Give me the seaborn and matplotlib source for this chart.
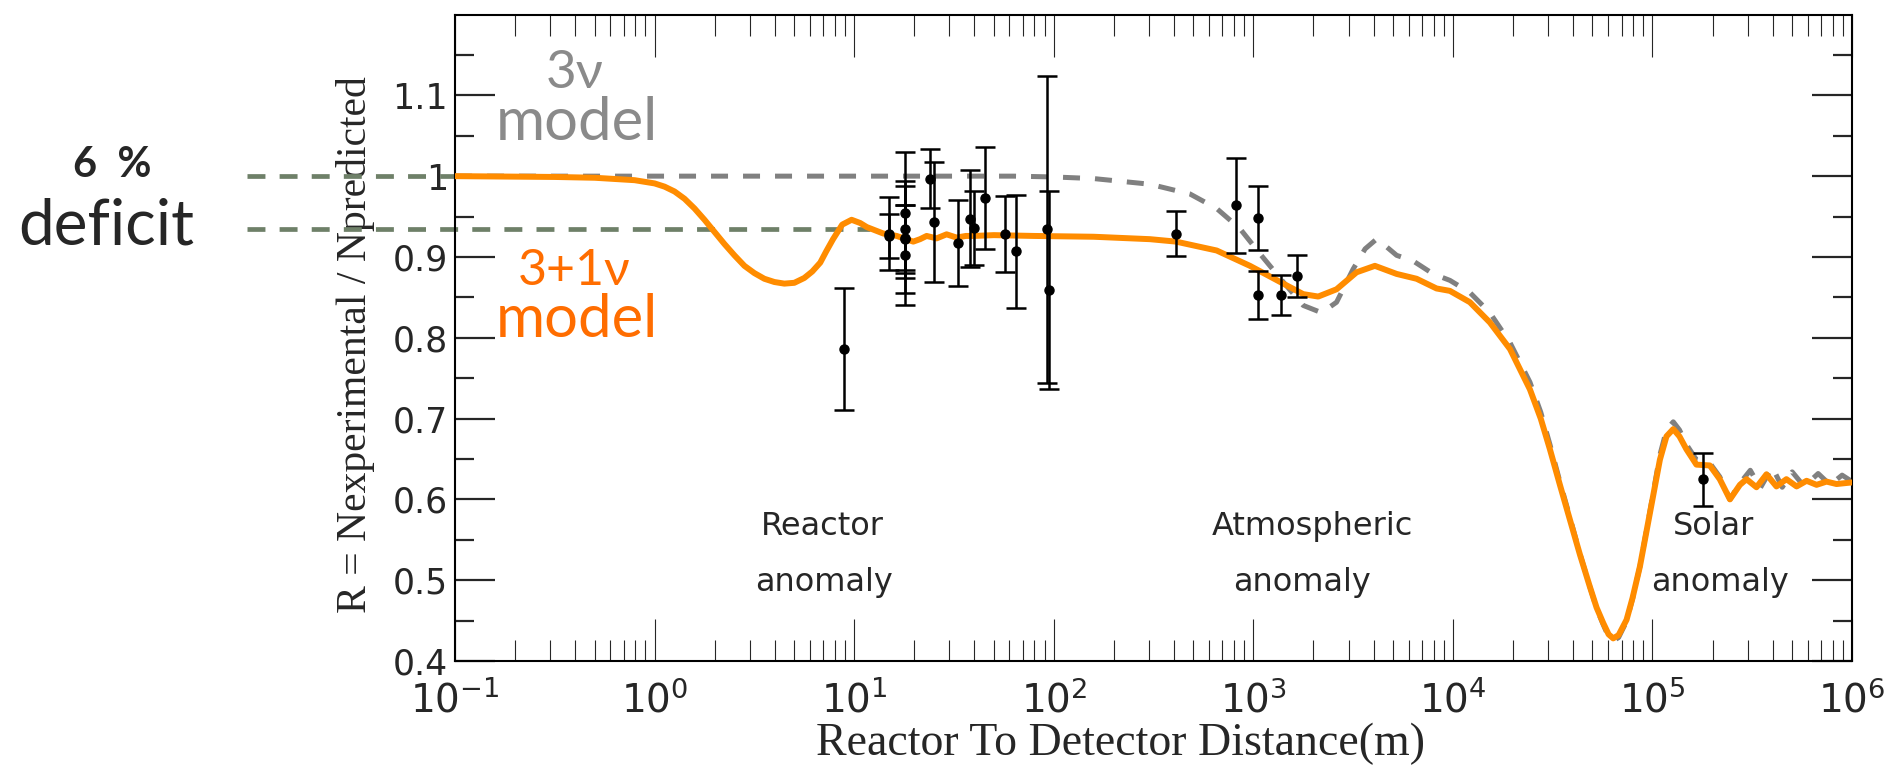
import numpy as np
import matplotlib
matplotlib.use("Agg")
import matplotlib.pyplot as plt
import seaborn as sns
from matplotlib.ticker import FixedLocator, LogLocator, NullFormatter, FuncFormatter

# 3+1 nu model (log10 of distance in m, R)
sterile_logx = [-1.0, -0.5, -0.3, -0.1, 0.0, 0.05, 0.1, 0.15, 0.2, 0.25, 0.3, 0.35, 0.4,
                0.45, 0.5, 0.55, 0.6, 0.65, 0.7, 0.75, 0.79, 0.83, 0.86, 0.894, 0.94,
                0.987, 1.03, 1.063, 1.146, 1.213, 1.26, 1.296, 1.33, 1.363, 1.413, 1.463,
                1.513, 1.56, 1.6, 1.7, 1.9, 2.2, 2.482, 2.612, 2.816, 2.983, 3.15, 3.25,
                3.325, 3.417, 3.517, 3.609, 3.718, 3.818, 3.918, 3.985, 4.085, 4.185,
                4.286, 4.386, 4.44, 4.486, 4.536, 4.586, 4.636, 4.686, 4.72, 4.753, 4.78,
                4.803, 4.83, 4.87, 4.9, 4.937, 4.987, 5.037, 5.07, 5.104, 5.135, 5.17,
                5.22, 5.287, 5.337, 5.388, 5.438, 5.471, 5.521, 5.571, 5.621, 5.671,
                5.722, 5.772, 5.822, 5.872, 5.922, 6.0]
sterile_r = [1.000, 0.999, 0.998, 0.995, 0.991, 0.987, 0.981, 0.972, 0.960, 0.946, 0.931,
             0.916, 0.902, 0.889, 0.880, 0.873, 0.869, 0.867, 0.868, 0.874, 0.882, 0.893,
             0.907, 0.922, 0.940, 0.946, 0.942, 0.937, 0.929, 0.926, 0.922, 0.919, 0.922,
             0.926, 0.923, 0.928, 0.924, 0.926, 0.926, 0.927, 0.926, 0.925, 0.922, 0.919,
             0.908, 0.889, 0.867, 0.854, 0.851, 0.860, 0.881, 0.889, 0.879, 0.873, 0.861,
             0.858, 0.844, 0.819, 0.786, 0.736, 0.700, 0.662, 0.618, 0.575, 0.532, 0.492,
             0.466, 0.447, 0.433, 0.428, 0.432, 0.451, 0.478, 0.517, 0.583, 0.649, 0.678,
             0.687, 0.678, 0.662, 0.643, 0.642, 0.625, 0.600, 0.618, 0.625, 0.615, 0.631,
             0.616, 0.625, 0.616, 0.623, 0.618, 0.622, 0.619, 0.621]

# 3 nu model
standard_logx = [-1.0, 0.0, 1.0, 1.8, 2.0, 2.2, 2.482, 2.682, 2.816, 2.933, 3.033, 3.15,
                 3.25, 3.342, 3.417, 3.5, 3.56, 3.617, 3.67, 3.718, 3.801, 3.901, 3.985,
                 4.085, 4.185, 4.286, 4.386, 4.44, 4.486, 4.536, 4.586, 4.636, 4.686,
                 4.72, 4.753, 4.78, 4.803, 4.83, 4.87, 4.9, 4.937, 4.987, 5.037, 5.07,
                 5.104, 5.135, 5.17, 5.22, 5.287, 5.337, 5.388, 5.438, 5.49, 5.54, 5.6,
                 5.65, 5.7, 5.76, 5.83, 5.89, 5.95, 6.0]
standard_r = [1.000, 1.000, 1.000, 1.000, 0.999, 0.997, 0.990, 0.978, 0.960, 0.935, 0.904,
              0.869, 0.840, 0.831, 0.844, 0.885, 0.910, 0.922, 0.912, 0.902, 0.895, 0.879,
              0.871, 0.856, 0.831, 0.794, 0.745, 0.708, 0.668, 0.622, 0.578, 0.533, 0.492,
              0.465, 0.445, 0.430, 0.425, 0.429, 0.449, 0.477, 0.517, 0.585, 0.655, 0.686,
              0.696, 0.686, 0.668, 0.649, 0.645, 0.628, 0.600, 0.620, 0.636, 0.614, 0.640,
              0.615, 0.634, 0.616, 0.632, 0.618, 0.630, 0.622]

# measurements (distance m, R, error)
meas_dist = [8.9, 15.0, 15.0, 18.0, 18.0, 18.0, 18.0, 18.0, 24.0, 25.0, 33.0, 38.0, 40.0,
             45.0, 57.0, 65.0, 92.0, 95.0,
             410, 820, 1050, 1050, 1380, 1650,
             1.8e5]
meas_r = [0.786, 0.929, 0.926, 0.955, 0.934, 0.922, 0.924, 0.902, 0.997, 0.943, 0.917,
          0.947, 0.936, 0.973, 0.928, 0.907, 0.934, 0.859,
          0.929, 0.964, 0.948, 0.853, 0.853, 0.876,
          0.625]
meas_err = [0.075, 0.045, 0.027, 0.075, 0.060, 0.066, 0.040, 0.062, 0.037, 0.074, 0.053,
            0.060, 0.046, 0.063, 0.047, 0.070, 0.190, 0.122,
            0.028, 0.059, 0.040, 0.030, 0.025, 0.026,
            0.033]

deficit_levels = [1.0, 0.934]

sns.set_style("ticks")
plt.rcParams["font.family"] = ["DejaVu Sans"]

fig = plt.figure(figsize=(18.92, 7.77), dpi=100)
ax = fig.add_axes([0.2405, 0.1493, 0.7384, 0.832])

green = "#6e8068"
# deficit guide lines, reaching out of the axes to the left
ax.plot([-0.149, 0.0], [deficit_levels[0]] * 2, transform=ax.get_yaxis_transform(),
        color=green, lw=3.4, linestyle=(0, (3.8, 3.0)), clip_on=False, zorder=1)
ax.plot([-0.149, 0.297], [deficit_levels[1]] * 2, transform=ax.get_yaxis_transform(),
        color=green, lw=3.4, linestyle=(0, (3.8, 3.0)), clip_on=False, zorder=1)

sns.lineplot(x=10 ** np.array(standard_logx), y=standard_r, ax=ax, color="#808080",
             lw=3.6, linestyle=(0, (3.4, 3.0)), zorder=2)
sns.lineplot(x=10 ** np.array(sterile_logx), y=sterile_r, ax=ax, color="#ff8c00",
             lw=4.3, zorder=3)

ax.errorbar(meas_dist, meas_r, yerr=meas_err, fmt="o", color="black", ms=6.5,
            elinewidth=1.8, capsize=7, capthick=1.8, zorder=5)

ax.set_xscale("log")
ax.set_xlim(1e-1, 1e6)
ax.set_ylim(0.4, 1.2)

ax.xaxis.set_major_locator(LogLocator(base=10, numticks=20))
ax.xaxis.set_minor_locator(LogLocator(base=10, subs=np.arange(2, 10), numticks=100))
ax.xaxis.set_minor_formatter(NullFormatter())
ax.yaxis.set_major_locator(FixedLocator(np.arange(0.4, 1.15, 0.1)))
ax.yaxis.set_minor_locator(FixedLocator(np.arange(0.45, 1.2, 0.1)))
ax.yaxis.set_major_formatter(FuncFormatter(lambda v, _: f"{v:g}"))

ax.tick_params(axis="both", which="both", direction="in", top=True, right=True)
ax.tick_params(axis="x", which="major", length=30, width=0.8, labelsize=28, pad=14)
ax.tick_params(axis="x", which="minor", length=15, width=0.8)
ax.tick_params(axis="y", which="major", length=29, width=1.6, labelsize=25, pad=5)
ax.tick_params(axis="y", which="minor", length=14, width=1.6)
for s in ax.spines.values():
    s.set_linewidth(1.5)
    s.set_color("black")

ax.set_xlabel("Reactor To Detector Distance(m)", family="Liberation Serif", fontsize=33)
ax.set_ylabel("R = Nexperimental / Npredicted", family="Liberation Serif", fontsize=30)
ax.xaxis.set_label_coords(0.476, -0.095)
ax.yaxis.set_label_coords(-0.057, 0.49)

# region labels
for lx, txt, y in [(0.839, "Reactor", 0.556), (0.849, "anomaly", 0.486),
                   (3.294, "Atmospheric", 0.556), (3.243, "anomaly", 0.486),
                   (5.308, "Solar", 0.556), (5.338, "anomaly", 0.486)]:
    ax.text(10 ** lx, y, txt, ha="center", va="baseline", fontsize=23, zorder=6)

# hand written notes
hand = ["Lato", "DejaVu Sans"]
ax.text(10 ** -0.399, 1.127, "3ν", color="#8a8a8a", fontsize=38, family=hand,
        ha="center", va="center")
ax.text(10 ** -0.389, 1.066, "model", color="#8a8a8a", fontsize=43, family=hand,
        ha="center", va="center")
ax.text(10 ** -0.404, 0.883, "3+1ν", color="#ff6d00", fontsize=36, family=hand,
        ha="center", va="center")
ax.text(10 ** -0.389, 0.822, "model", color="#ff6d00", fontsize=43, family=hand,
        ha="center", va="center")
fig.text(0.0592, 0.7876, "6  %", fontsize=30, family=hand, weight="bold",
         ha="center", va="center")
fig.text(0.056, 0.7079, "deficit", fontsize=46, family=hand,
         ha="center", va="center")

fig.savefig("out.png", dpi=100)
